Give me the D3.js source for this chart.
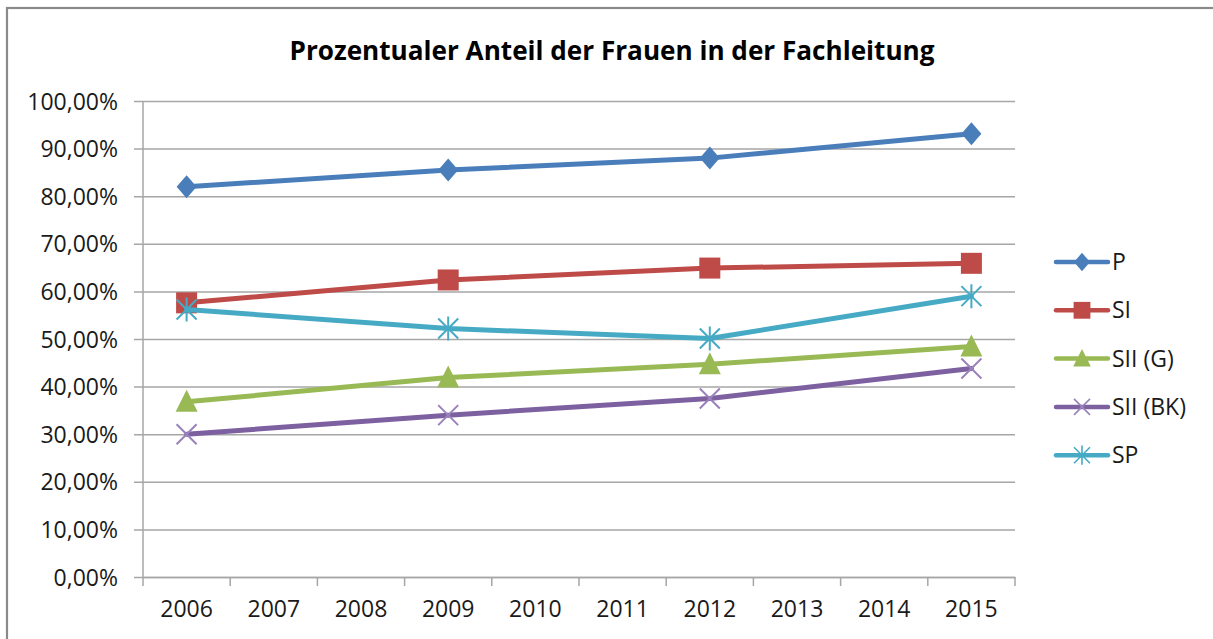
<!DOCTYPE html>
<html>
<head>
<meta charset="utf-8">
<script src="https://cdn.jsdelivr.net/npm/d3@7"></script>
<style>
  body { margin: 0; background: #fff; }
  svg { display: block; }
</style>
</head>
<body>
<svg width="1213" height="639"></svg>
<script>
// categories on the x axis
var years = ['2006','2007','2008','2009','2010','2011','2012','2013','2014','2015'];
// years with measured values
var measuredYears = ['2006','2009','2012','2015'];

// series values (share of women, 0..1)
var seriesNames = ['P','SI','SII (G)','SII (BK)','SP'];
var pValues     = [0.820, 0.855, 0.880, 0.931];
var siValues    = [0.576, 0.624, 0.649, 0.659];
var siiGValues  = [0.368, 0.419, 0.447, 0.484];
var siiBkValues = [0.300, 0.340, 0.375, 0.438];
var spValues    = [0.562, 0.522, 0.501, 0.590];

var yTicks = [0,0.1,0.2,0.3,0.4,0.5,0.6,0.7,0.8,0.9,1.0];

var colors = ['#4A7EBB','#BE4B48','#98B954','#7D60A0','#46AAC5'];
var markers = ['diamond','square','triangle','cross','star'];

var series = [pValues, siValues, siiGValues, siiBkValues, spValues].map(function(vals, i){
	return {
		name: seriesNames[i],
		color: colors[i],
		marker: markers[i],
		points: vals.map(function(v, j){ return { year: measuredYears[j], value: v }; })
	};
});

var svg = d3.select('svg');
var font = '"Open Sans", "DejaVu Sans", sans-serif';

// outer chart frame
svg.append('rect')
	.attr('x', 7).attr('y', 8)
	.attr('width', 1240).attr('height', 660)
	.attr('fill', 'none')
	.attr('stroke', '#8a8a8a')
	.attr('stroke-width', 2.2);

// title
svg.append('text')
	.attr('x', 612).attr('y', 60)
	.attr('text-anchor', 'middle')
	.attr('font-family', '"Open Sans", "DejaVu Sans", sans-serif')
	.attr('font-weight', 'bold')
	.attr('font-size', 27)
	.attr('textLength', 645)
	.attr('lengthAdjust', 'spacingAndGlyphs')
	.attr('fill', '#000')
	.text('Prozentualer Anteil der Frauen in der Fachleitung');

var x = d3.scaleBand().domain(years).range([143, 1015]);
var y = d3.scaleLinear().domain([0, 1]).range([577, 101]);

var de = d3.formatLocale({ decimal: ',', thousands: '.', grouping: [3], currency: ['', '€'] });
var pct = de.format('.2%');

// gridlines + y axis
var yAxis = d3.axisLeft(y)
	.tickValues(yTicks)
	.tickFormat(pct)
	.tickSizeInner(-(1015 - 143))
	.tickSizeOuter(0)
	.tickPadding(0);

var gy = svg.append('g')
	.attr('transform', 'translate(143,0)')
	.call(yAxis);
gy.select('.domain').remove();
gy.selectAll('.tick line')
	.attr('stroke', '#a6a6a6')
	.attr('stroke-width', 1.5)
	.attr('x1', -9);
gy.selectAll('.tick text')
	.attr('x', -25)
	.attr('dy', '0.35em')
	.attr('font-family', font)
	.attr('font-size', 23)
	.attr('fill', '#1a1a1a');

// y axis line
svg.append('line')
	.attr('x1', 143).attr('x2', 143)
	.attr('y1', y(1)).attr('y2', y(0))
	.attr('stroke', '#a6a6a6').attr('stroke-width', 1.5);

// x axis
var xAxis = d3.axisBottom(x).tickSize(0).tickPadding(24);
var gx = svg.append('g')
	.attr('transform', 'translate(0,' + y(0) + ')')
	.call(xAxis);
gx.select('.domain')
	.attr('stroke', '#a6a6a6')
	.attr('stroke-width', 1.5);
gx.selectAll('.tick text')
	.attr('font-family', font)
	.attr('font-size', 23)
	.attr('fill', '#1a1a1a');

// tick marks between categories
gx.selectAll('.sep')
	.data(years.concat(['end']))
	.enter().append('line')
	.attr('class', 'sep')
	.attr('x1', function(d, i){ return i < years.length ? x(d) : x.range()[1]; })
	.attr('x2', function(d, i){ return i < years.length ? x(d) : x.range()[1]; })
	.attr('y1', 0).attr('y2', 9)
	.attr('stroke', '#a6a6a6')
	.attr('stroke-width', 1.5);

function cx(d){ return x(d.year) + x.bandwidth() / 2; }

function drawMarker(g, type, color){
	if( type == 'diamond' ){
		g.append('path').attr('d', 'M0,-11.5L10,0L0,11.5L-10,0Z').attr('fill', color);
	}
	else if( type == 'square' ){
		g.append('rect').attr('x', -10.5).attr('y', -10.5).attr('width', 21).attr('height', 21).attr('fill', color);
	}
	else if( type == 'triangle' ){
		g.append('path').attr('d', 'M0,-12L11,10L-11,10Z').attr('fill', color);
	}
	else if( type == 'cross' ){
		g.append('path').attr('d', 'M-10,-10L10,10M10,-10L-10,10')
			.attr('stroke', '#9a82bb').attr('stroke-width', 2).attr('fill', 'none');
	}
	else if( type == 'star' ){
		g.append('path').attr('d', 'M-10,-10L10,10M10,-10L-10,10M0,-12L0,12')
			.attr('stroke', color).attr('stroke-width', 2).attr('fill', 'none');
	}
}

var line = d3.line()
	.x(cx)
	.y(function(d){ return y(d.value); });

// draw in Excel order: first series at the bottom
series.forEach(function(s){
	var g = svg.append('g');
	g.append('path')
		.datum(s.points)
		.attr('d', line)
		.attr('fill', 'none')
		.attr('stroke', s.color)
		.attr('stroke-width', 5)
		.attr('stroke-linejoin', 'round')
		.attr('stroke-linecap', 'round');

	s.points.forEach(function(p){
		var m = g.append('g').attr('transform', 'translate(' + cx(p) + ',' + y(p.value) + ')');
		drawMarker(m, s.marker, s.color);
	});
});

// legend
var legend = svg.append('g');
series.forEach(function(s, i){
	var ly = 262 + i * 48.3;
	var row = legend.append('g').attr('transform', 'translate(0,' + ly + ')');
	row.append('line')
		.attr('x1', 1056).attr('x2', 1108)
		.attr('y1', 0).attr('y2', 0)
		.attr('stroke', s.color)
		.attr('stroke-width', 4.5)
		.attr('stroke-linecap', 'round');
	var m = row.append('g').attr('transform', 'translate(1082,0) scale(0.8)');
	drawMarker(m, s.marker, s.color);
	row.append('text')
		.attr('x', 1112).attr('y', 0)
		.attr('dy', '0.35em')
		.attr('font-family', font)
		.attr('font-size', 23)
		.attr('fill', '#1a1a1a')
		.text(s.name);
});
</script>
</body>
</html>
